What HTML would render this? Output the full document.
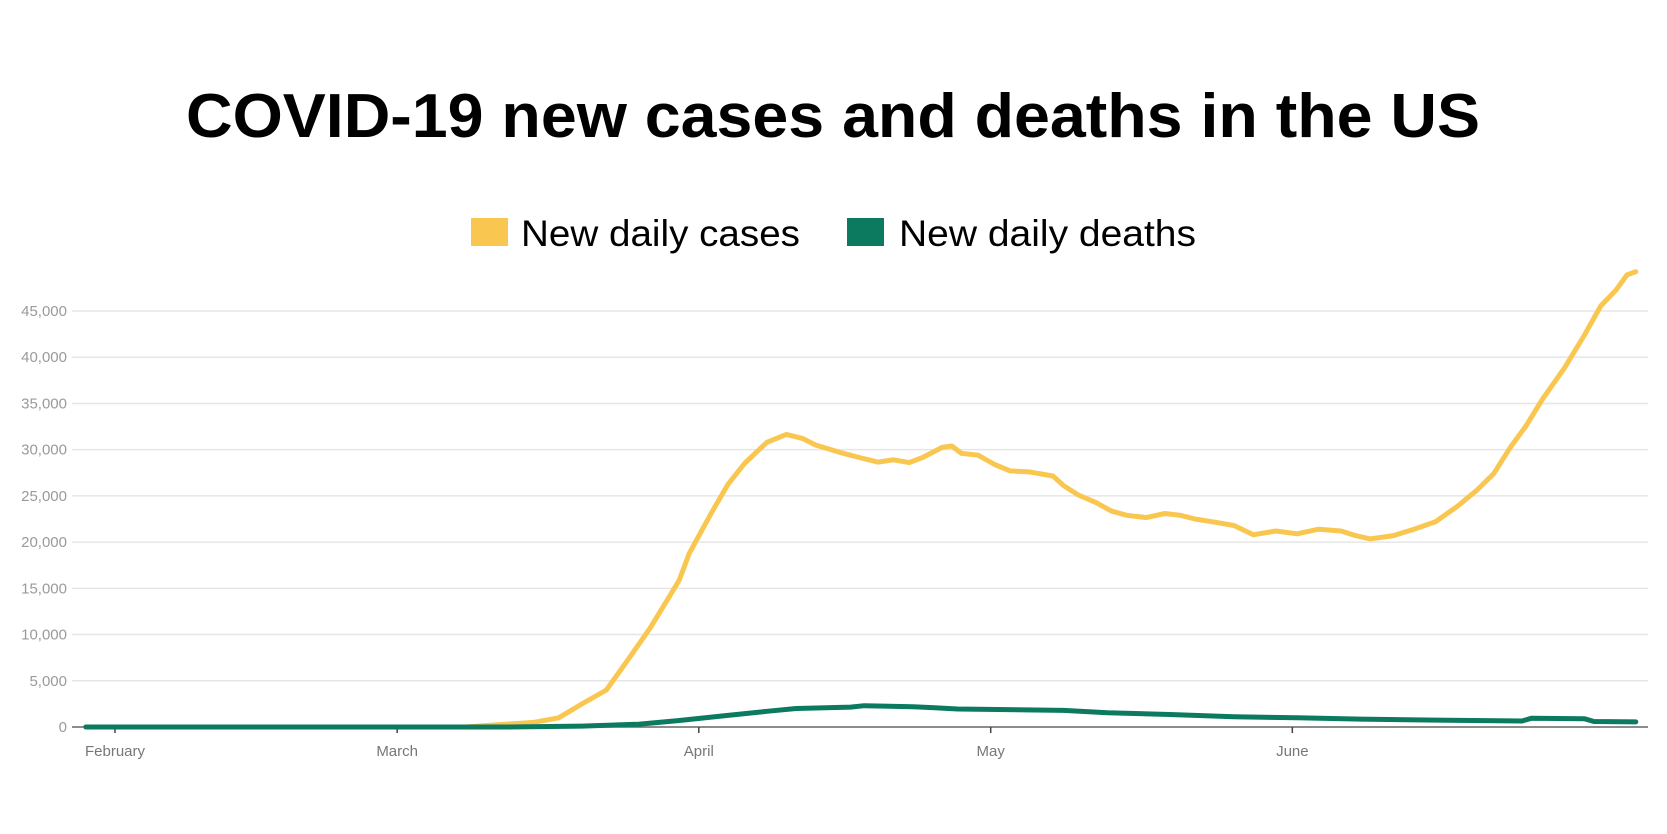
<!DOCTYPE html>
<html><head><meta charset="utf-8"><style>
html,body{margin:0;padding:0;background:#fff;}
svg{display:block;font-family:"Liberation Sans",sans-serif;}
</style></head><body>
<svg id="chart" width="1667" height="834" viewBox="0 0 1667 834">
<text x="833" y="137" text-anchor="middle" font-size="62" font-weight="bold" fill="#000" textLength="1294" lengthAdjust="spacingAndGlyphs">COVID-19 new cases and deaths in the US</text>
<g>
<rect x="471" y="218" width="37" height="28" fill="#f9c74f"/>
<text x="521" y="246" font-size="37" fill="#000" textLength="279" lengthAdjust="spacingAndGlyphs">New daily cases</text>
<rect x="847" y="218" width="37" height="28" fill="#0b7a5f"/>
<text x="899" y="246" font-size="37" fill="#000" textLength="297" lengthAdjust="spacingAndGlyphs">New daily deaths</text>
</g>
<g id="grid"></g><g id="xaxis"></g><g id="lines"></g>
</svg>
<script>
const yTicks=[0,5000,10000,15000,20000,25000,30000,35000,40000,45000];
const monthLabels=["February","March","April","May","June"];
const monthDays=[0,29,60,90,121];
const caseDays=[-3,36,43,45.6,48,50.5,52.7,55,57,58,59,61.4,63,64.7,67,69,70.7,72,74.5,76.7,78.4,80,81.6,83,85,86,87,88.7,90.4,92,94,96.4,97.5,99,100.8,102.4,104,106,107.9,109.5,111,112.8,115,117,119.3,121.5,123.7,126,127.5,129,131.4,133.5,135.7,138,140,141.7,143.4,145,146.7,149,151,152.7,154.3,155.4,156.3];
const caseValues=[0,0,500,1000,2500,4000,7250,10700,14150,15900,18750,23350,26250,28500,30800,31650,31200,30500,29700,29100,28650,28900,28600,29150,30250,30400,29600,29400,28400,27700,27600,27150,26100,25100,24300,23350,22900,22650,23100,22900,22500,22200,21800,20800,21200,20900,21400,21200,20700,20350,20700,21400,22200,23900,25650,27400,30250,32550,35450,38900,42350,45550,47300,48900,49250];
const deathDays=[-3,40,48,53.8,58,62.5,67,70,75.6,77,82,84,86.6,97.5,102,108.4,115,121.5,128,135.7,144.6,145.6,151,152,156.3];
const deathValues=[0,0,100,300,700,1200,1700,2000,2150,2300,2200,2100,1950,1800,1550,1350,1100,1000,850,750,650,950,900,600,550];
const NS="http://www.w3.org/2000/svg";
const X0=115,PXD=9.73,Y0=727,PXV=416/45000;
const xs=d=>X0+d*PXD, ys=v=>Y0-v*PXV;
function mk(t,a,p){const e=document.createElementNS(NS,t);for(const k in a)e.setAttribute(k,a[k]);p.appendChild(e);return e;}
const grid=document.getElementById('grid');
yTicks.forEach(v=>{
  if(v>0){const l=mk('line',{x1:72,x2:1648,y1:ys(v),y2:ys(v),stroke:'#e6e6e6','stroke-width':1.5},grid);
  
  }
  const t=mk('text',{x:67,y:ys(v)+5,'text-anchor':'end','font-size':15,fill:'#9a9a9a'},grid);
  t.textContent=v.toLocaleString('en-US');
  
  
});
const xa=document.getElementById('xaxis');
const ax=mk('line',{x1:72,x2:1648,y1:Y0,y2:Y0,stroke:'#666','stroke-width':1.5},xa);


monthLabels.forEach((m,i)=>{
  const x=xs(monthDays[i]);
  const tk=mk('line',{x1:x,x2:x,y1:Y0,y2:Y0+6,stroke:'#444','stroke-width':1.5},xa);
  
  
  const t=mk('text',{x:x,y:756,'text-anchor':'middle','font-size':15,fill:'#777'},xa);
  t.textContent=m;
  
  
});
const lines=document.getElementById('lines');
function path(d,v){return d.map((dd,i)=>(i?'L':'M')+xs(dd).toFixed(1)+','+ys(v[i]).toFixed(1)).join('');}
const pc=mk('path',{d:path(caseDays,caseValues),fill:'none',stroke:'#f9c74f','stroke-width':5,'stroke-linejoin':'round','stroke-linecap':'round'},lines);


const pd=mk('path',{d:path(deathDays,deathValues),fill:'none',stroke:'#0b7a5f','stroke-width':5,'stroke-linejoin':'round','stroke-linecap':'round'},lines);


</script>
</body></html>
